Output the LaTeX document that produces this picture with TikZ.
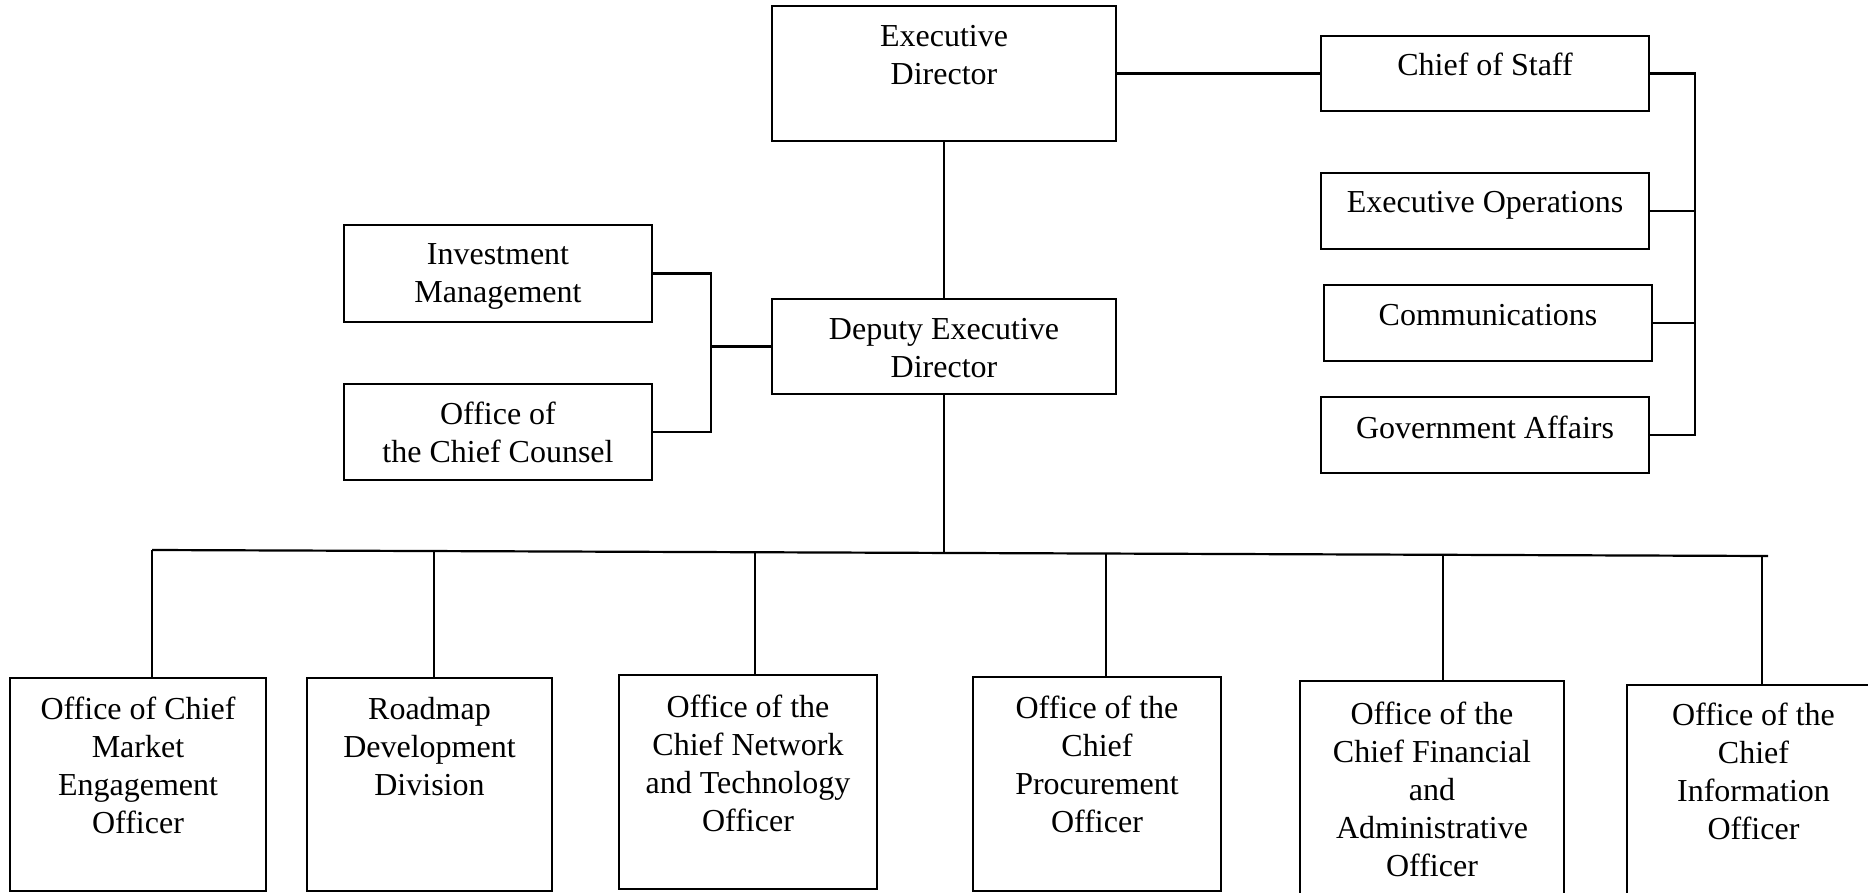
\documentclass[tikz,border=0pt]{standalone}
\usepackage{fontspec}
\setmainfont{Liberation Serif}
\begin{document}
\begin{tikzpicture}[x=0.5pt,y=-0.5pt,
  box/.style={draw, line width=1pt, rectangle, inner sep=0pt},
  txt/.style={anchor=north, align=center, inner sep=0pt, font=\fontsize{16}{19}\selectfont},
  conn/.style={line width=1.1pt}]
\useasboundingbox (0,0) rectangle (1868,893);
\clip (0,0) rectangle (1868,893);
% top boxes
\node[box, minimum width=172pt, minimum height=67.5pt] (ed) at (944,73.5) {};
\node[box, minimum width=164pt, minimum height=37.5pt] (cos) at (1485,73.5) {};
\node[box, minimum width=164pt, minimum height=38pt] (eo) at (1485,211) {};
\node[box, minimum width=164pt, minimum height=38pt] (com) at (1488,323) {};
\node[box, minimum width=164pt, minimum height=38pt] (ga) at (1485,435) {};
\node[box, minimum width=154pt, minimum height=48.5pt] (im) at (498,273.5) {};
\node[box, minimum width=154pt, minimum height=48pt] (occ) at (498,432) {};
\node[box, minimum width=172pt, minimum height=47.5pt] (dep) at (944,346.5) {};
% bottom boxes
\node[box, minimum width=128pt, minimum height=106.5pt] (b1) at (138,784.5) {};
\node[box, minimum width=122.5pt, minimum height=106.5pt] (b2) at (429.5,784.5) {};
\node[box, minimum width=129pt, minimum height=107pt] (b3) at (748,782) {};
\node[box, minimum width=124pt, minimum height=107pt] (b4) at (1097,784) {};
\node[box, minimum width=132pt, minimum height=107pt] (b5) at (1432,788) {};
\node[box, minimum width=126.5pt, minimum height=107pt] (b6) at (1753.5,792) {};
% texts
\node[txt] (ed-t) at ([yshift=-10pt]ed.north) {Executive\\Director};
\node[txt] (cos-t) at ([yshift=-9pt]cos.north) {Chief of Staff};
\node[txt] (eo-t) at ([yshift=-9.5pt]eo.north) {Executive Operations};
\node[txt] (com-t) at ([yshift=-10pt]com.north) {Communications};
\node[txt] (ga-t) at ([yshift=-10pt]ga.north) {Government Affairs};
\node[txt] (im-t) at ([yshift=-9.5pt]im.north) {Investment\\Management};
\node[txt] (occ-t) at ([yshift=-9.5pt]occ.north) {Office of\\the Chief Counsel};
\node[txt] (dep-t) at ([yshift=-10pt]dep.north) {Deputy Executive\\Director};
\node[txt] (b1-t) at ([yshift=-10pt]b1.north) {Office of Chief\\Market\\Engagement\\Officer};
\node[txt] (b2-t) at ([yshift=-10pt]b2.north) {Roadmap\\Development\\Division};
\node[txt] (b3-t) at ([yshift=-10.5pt]b3.north) {Office of the\\Chief Network\\and Technology\\Officer};
\node[txt] (b4-t) at ([yshift=-10pt]b4.north) {Office of the\\Chief\\Procurement\\Officer};
\node[txt] (b5-t) at ([yshift=-11pt]b5.north) {Office of the\\Chief Financial\\and\\Administrative\\Officer};
\node[txt] (b6-t) at ([yshift=-9.5pt]b6.north) {Office of the\\Chief\\Information\\Officer};
% connectors: top
\draw[conn] (ed.east) -- (cos.west);
\draw[conn] (ed.south) -- (dep.north);
\coordinate (rb) at (1695,73.5);
\draw[conn] (cos.east) -- (rb) -- (rb |- ga.east) -- (ga.east);
\draw[conn] (eo.east) -- (eo.east -| rb);
\draw[conn] (com.east) -- (com.east -| rb);
\coordinate (lb) at (711,273.5);
\draw[conn] (im.east) -- (lb) -- (lb |- occ.east) -- (occ.east);
\draw[conn] (dep.west) -- (dep.west -| lb);
% bus
\coordinate (busl) at (152,550);
\coordinate (busr) at (1768,556);
\draw[conn] (busl) -- (busr);
\coordinate (d1) at (152,550);
\coordinate (d2) at (434,551.05);
\coordinate (d3) at (755,552.24);
\coordinate (dm) at (944,552.94);
\coordinate (d4) at (1106,553.54);
\coordinate (d5) at (1443,554.79);
\coordinate (d6) at (1762,555.98);
\draw[conn] (dep.south) -- (dm);
\draw[conn] (d1) -- (d1 |- b1.north);
\draw[conn] (d2) -- (d2 |- b2.north);
\draw[conn] (d3) -- (d3 |- b3.north);
\draw[conn] (d4) -- (d4 |- b4.north);
\draw[conn] (d5) -- (d5 |- b5.north);
\draw[conn] (d6) -- (d6 |- b6.north);
\end{tikzpicture}
\end{document}
